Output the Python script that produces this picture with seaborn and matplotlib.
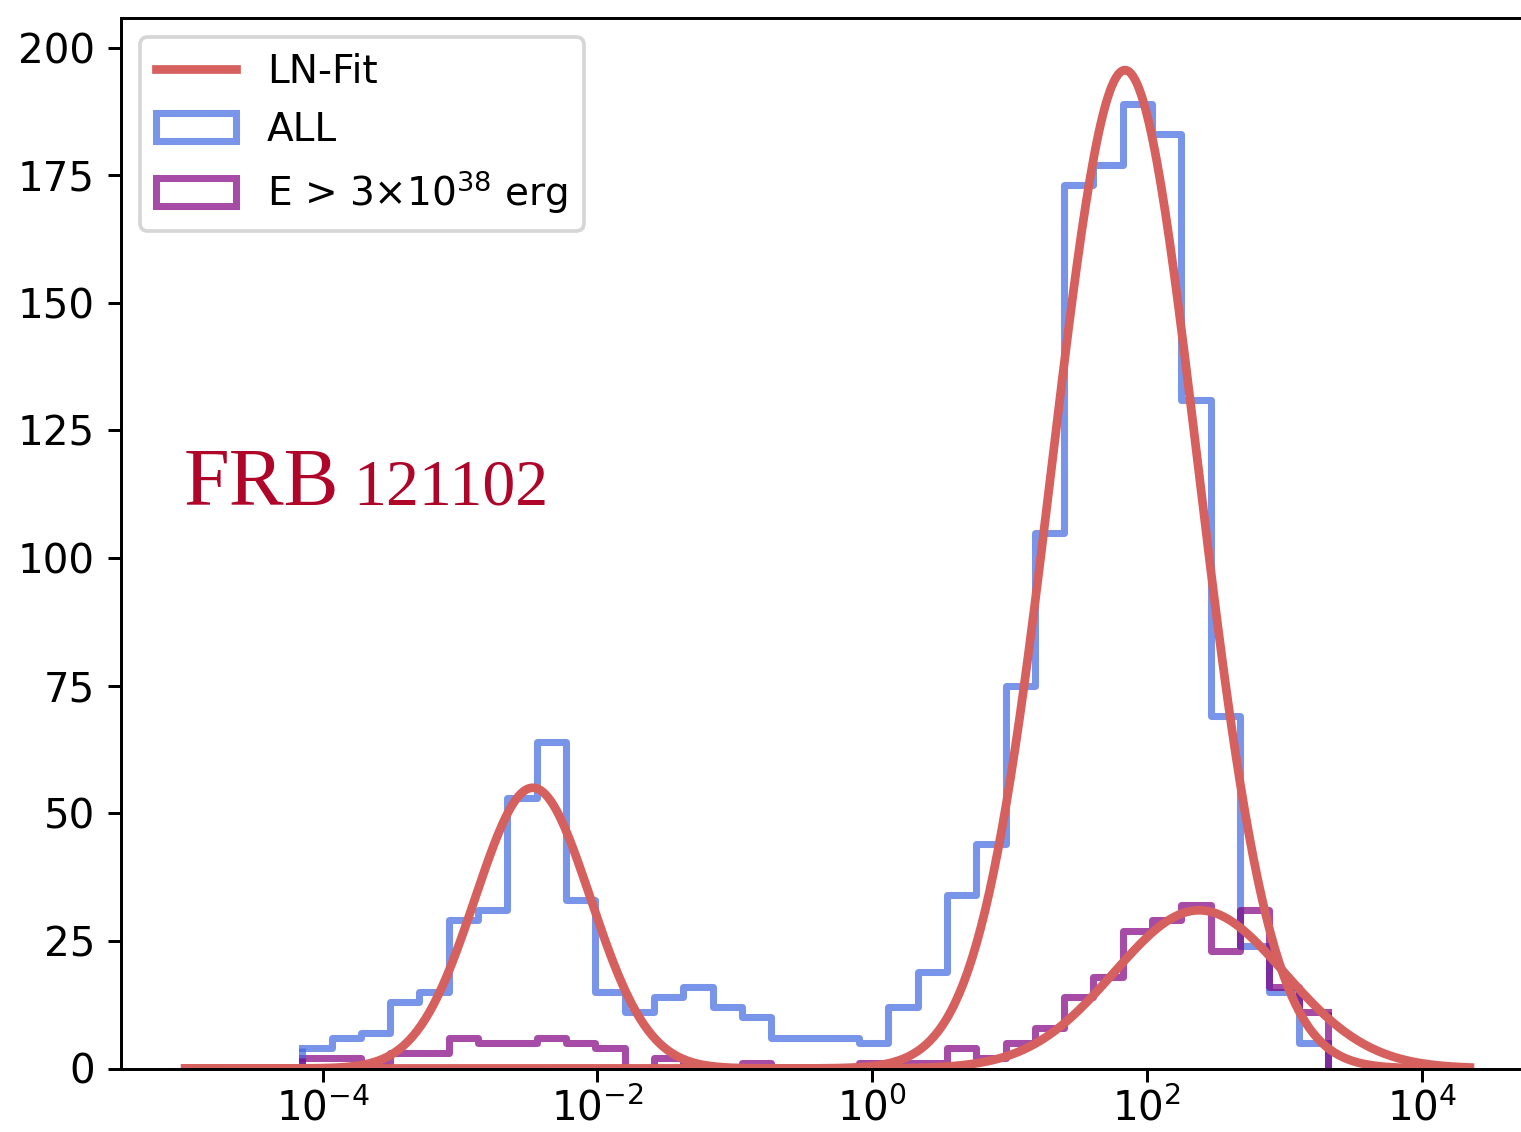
import numpy as np
import pandas as pd
import matplotlib
matplotlib.use("Agg")
import matplotlib.pyplot as plt
import seaborn as sns
from matplotlib.patches import Patch
from matplotlib.lines import Line2D

# ---------------- data ----------------
# log-spaced bins (log10 units)
log_bin_start = -4.148
log_bin_width = 0.2133
n_bins = 35

counts_all = [4, 6, 7, 13, 15, 29, 31, 53, 64, 33,
              15, 11, 14, 16, 12, 10, 6, 6, 6, 5,
              12, 19, 34, 44, 75, 105, 173, 177, 189, 183,
              131, 69, 24, 15, 5]
counts_high = [2, 2, 1, 3, 3, 6, 5, 5, 6, 5,
               4, 0, 2, 0, 0, 1, 0, 0, 0, 1,
               1, 1, 4, 2, 5, 8, 14, 18, 27, 29,
               32, 23, 31, 16, 11]

# log-normal fit parameters (centre in log10, width in dex, peak height)
fit_all_center = [-2.47, 1.84]
fit_all_sigma = [0.42, 0.53]
fit_all_peak = [55.0, 195.6]
fit_high_center = [2.38]
fit_high_sigma = [0.62]
fit_high_peak = [31.0]
fit_log_range = (-5.0, 4.35)

labels = ["LN-Fit", "ALL", r"E > 3$\times$10$^{38}$ erg"]
annot_text = ("FRB", "121102")

# ---------------- derived tables ----------------
log_edges = log_bin_start + log_bin_width * np.arange(n_bins + 1)
centers = 10 ** (log_edges[:-1] + log_bin_width / 2)
df_all = pd.DataFrame({"energy": centers, "count": counts_all})
df_high = pd.DataFrame({"energy": centers, "count": counts_high})

u = np.linspace(fit_log_range[0], fit_log_range[1], 600)
def ln_model(u, cs, ss, ps):
    y = np.zeros_like(u)
    for c, s, p in zip(cs, ss, ps):
        y += p * np.exp(-0.5 * ((u - c) / s) ** 2)
    return y
df_fit_all = pd.DataFrame({"energy": 10 ** u,
                           "n": ln_model(u, fit_all_center, fit_all_sigma, fit_all_peak)})
df_fit_high = pd.DataFrame({"energy": 10 ** u,
                            "n": ln_model(u, fit_high_center, fit_high_sigma, fit_high_peak)})

# ---------------- figure ----------------
DPI = 267
fig = plt.figure(figsize=(1521 / DPI, 1132 / DPI), dpi=DPI)
ax = fig.add_axes([121 / 1521, (1132 - 1068.5) / 1132, (1534 - 121) / 1521, (1068.5 - 18) / 1132])
ax.set_xscale("log")

blue = "royalblue"
purple = "purple"
red = "#D6605E"
hist_alpha = 0.7
hist_lw = 1.9
fit_lw = 2.35

hist_kw = dict(x="energy", weights="count", bins=n_bins,
               binrange=(log_edges[0], log_edges[-1]),
               element="step", fill=False, linewidth=hist_lw, alpha=hist_alpha, ax=ax)
sns.histplot(data=df_all, color=blue, **hist_kw)
sns.histplot(data=df_high, color=purple, **hist_kw)

# closing vertical sides of the step outlines
for cnt, col in ((counts_all, blue), (counts_high, purple)):
    ax.vlines([10 ** log_edges[0], 10 ** log_edges[-1]], 0, [cnt[0], cnt[-1]],
              colors=col, alpha=hist_alpha, linewidth=hist_lw)

sns.lineplot(data=df_fit_all, x="energy", y="n", color=red, linewidth=fit_lw, ax=ax)
sns.lineplot(data=df_fit_high, x="energy", y="n", color=red, linewidth=fit_lw, ax=ax)

ax.set_xlim(10 ** -5.4675, 10 ** 4.8175)
ax.set_ylim(0, 205.8)
ax.set_xticks([1e-4, 1e-2, 1e0, 1e2, 1e4])
ax.xaxis.set_minor_locator(matplotlib.ticker.NullLocator())
ax.set_yticks(np.arange(0, 201, 25))
ax.set_xlabel("")
ax.set_ylabel("")
ax.tick_params(labelsize=10.9, length=3.5, width=0.8, color="black")
ax.tick_params(axis="x", pad=2.0)
for sp in ax.spines.values():
    sp.set_color("black")
    sp.set_linewidth(0.8)
ax.spines["right"].set_visible(False)

handles = [Line2D([], [], color=red, linewidth=fit_lw),
           Patch(facecolor="none", edgecolor=blue, alpha=hist_alpha, linewidth=hist_lw),
           Patch(facecolor="none", edgecolor=purple, alpha=hist_alpha, linewidth=hist_lw)]
ax.legend(handles, labels, loc="upper left", fontsize=10.5,
          handlelength=2.05, handleheight=0.75)

text_color = "#AE0529"
ax.text(10 ** -5.01, 110.4, annot_text[0], fontsize=22.2, color=text_color,
        family="Liberation Serif", va="baseline", ha="left")
ax.text(10 ** -3.78, 110.4, annot_text[1], fontsize=17.75, color=text_color,
        family="Liberation Serif", va="baseline", ha="left")

fig.savefig("out.png", dpi=DPI)
